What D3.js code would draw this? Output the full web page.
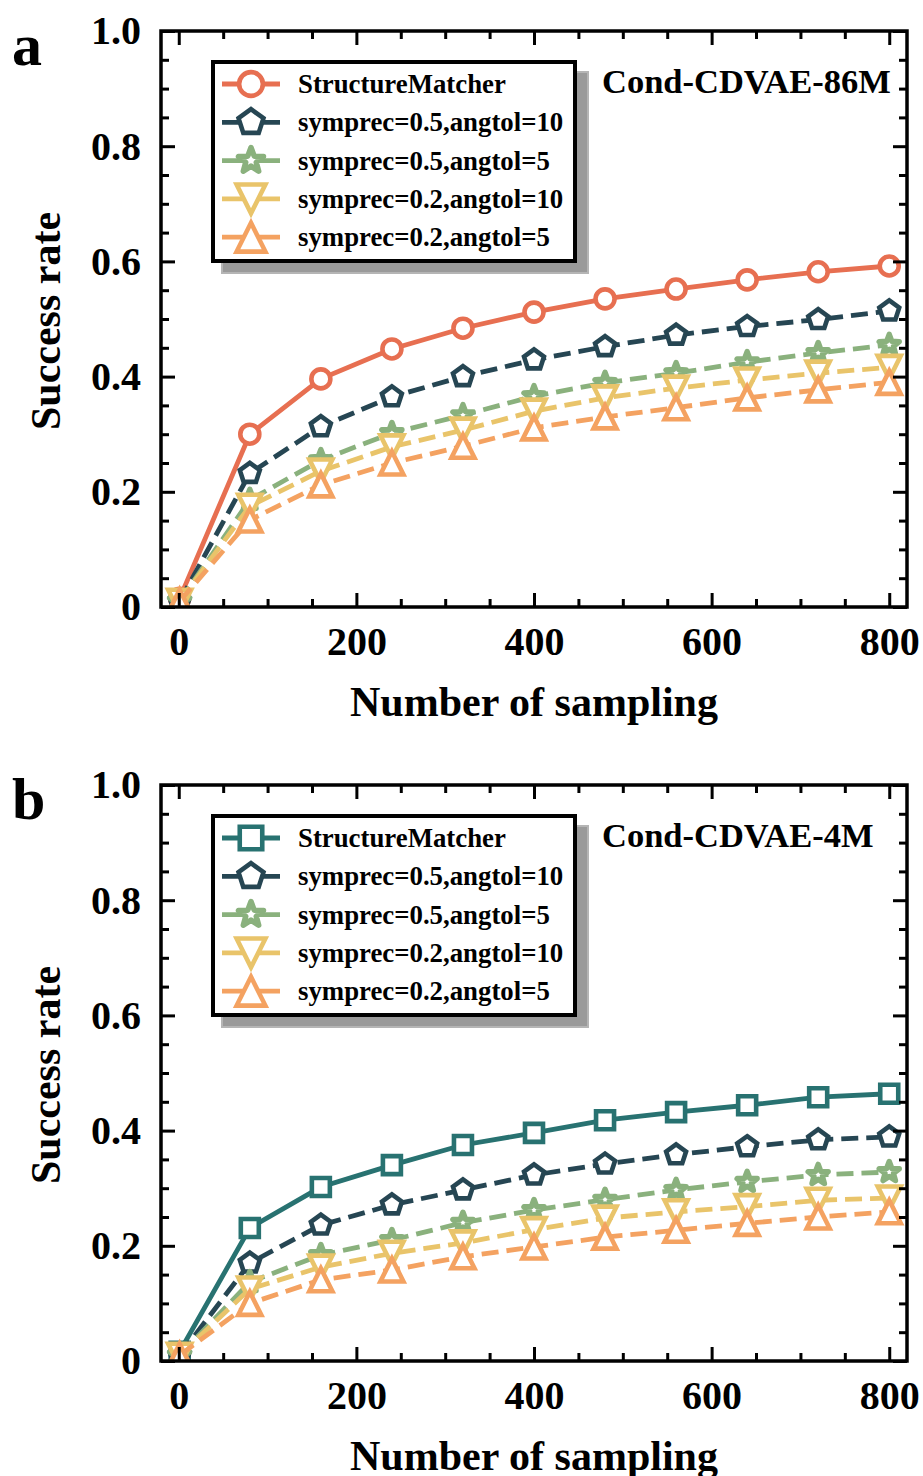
<!DOCTYPE html>
<html>
<head>
<meta charset="utf-8">
<script src="https://cdn.jsdelivr.net/npm/d3@7"></script>
<style>
  body { margin: 0; background: #fff; }
  svg text { font-family: "Liberation Serif", "Times New Roman", serif; font-weight: bold; fill: #000; }
  .tick text { font-size: 40px; }
  .axis-title { font-size: 42px; }
  .panel-letter { font-size: 60px; }
  .tag { font-size: 34.5px; }
  .legend-text { font-size: 26.8px; }
</style>
</head>
<body>
<svg id="fig" width="923" height="1476"></svg>
<script>
// data
var samplingN = [1, 80, 160, 240, 320, 400, 480, 560, 640, 720, 800];
var seriesNames = ["StructureMatcher", "symprec=0.5,angtol=10", "symprec=0.5,angtol=5",
                   "symprec=0.2,angtol=10", "symprec=0.2,angtol=5"];

// panel a : Cond-CDVAE-86M
var m86_structureMatcher = [0.015, 0.300, 0.396, 0.448, 0.484, 0.512, 0.535, 0.552, 0.568, 0.582, 0.592];
var m86_sp05_at10 = [0.010, 0.232, 0.313, 0.365, 0.400, 0.429, 0.452, 0.472, 0.487, 0.499, 0.514];
var m86_sp05_at5  = [0.010, 0.186, 0.255, 0.302, 0.333, 0.366, 0.389, 0.406, 0.425, 0.441, 0.455];
var m86_sp02_at10 = [0.010, 0.175, 0.236, 0.278, 0.307, 0.340, 0.363, 0.380, 0.394, 0.406, 0.416];
var m86_sp02_at5  = [0.010, 0.151, 0.212, 0.250, 0.279, 0.311, 0.330, 0.346, 0.363, 0.377, 0.390];

// panel b : Cond-CDVAE-4M
var m4_structureMatcher = [0.016, 0.231, 0.302, 0.340, 0.375, 0.396, 0.418, 0.432, 0.444, 0.458, 0.464];
var m4_sp05_at10 = [0.010, 0.170, 0.236, 0.271, 0.297, 0.323, 0.342, 0.358, 0.372, 0.384, 0.389];
var m4_sp05_at5  = [0.010, 0.137, 0.184, 0.210, 0.240, 0.262, 0.280, 0.297, 0.311, 0.323, 0.328];
var m4_sp02_at10 = [0.010, 0.125, 0.163, 0.187, 0.205, 0.228, 0.248, 0.259, 0.268, 0.279, 0.283];
var m4_sp02_at5  = [0.010, 0.100, 0.141, 0.158, 0.181, 0.198, 0.215, 0.227, 0.239, 0.250, 0.259];

var xMajor = [0, 200, 400, 600, 800];
var xMinor = [50, 100, 150, 250, 300, 350, 450, 500, 550, 650, 700, 750];
var yMajor = [0, 0.2, 0.4, 0.6, 0.8, 1.0];
var yMinor = [0.05, 0.1, 0.15, 0.25, 0.3, 0.35, 0.45, 0.5, 0.55, 0.65, 0.7, 0.75, 0.85, 0.9, 0.95];

var svg = d3.select("#fig");

// marker outlines, s = scale (legend uses bigger ones)
function markerPath(type, s) {
    var p = d3.path();
    var pts, i, a;
    if (type === "circle") {
        var r = 9.5 * s;
        p.moveTo(r, 0);
        p.arc(0, 0, r, 0, 2 * Math.PI);
        p.closePath();
        return p.toString();
    }
    if (type === "square") {
        var h = 9 * s;
        pts = [[-h, -h], [h, -h], [h, h], [-h, h]];
    } else if (type === "pentagon") {
        pts = [];
        for (i = 0; i < 5; i++) {
            a = (-90 + i * 72) * Math.PI / 180;
            pts.push([10.5 * s * Math.cos(a), 10.5 * s * Math.sin(a)]);
        }
    } else if (type === "star") {
        pts = [];
        for (i = 0; i < 10; i++) {
            a = (-90 + i * 36) * Math.PI / 180;
            var rr = (i % 2 === 0 ? 10.5 : 10.5 * 0.42) * s;
            pts.push([rr * Math.cos(a), rr * Math.sin(a)]);
        }
    } else if (type === "triDown") {
        var t = 11.5 * s;
        pts = [[-t, -t], [t, -t], [0, t]];
    } else {
        var u = 11.5 * s;
        pts = [[0, -u], [u, u], [-u, u]];
    }
    p.moveTo(pts[0][0], pts[0][1]);
    for (i = 1; i < pts.length; i++) p.lineTo(pts[i][0], pts[i][1]);
    p.closePath();
    return p.toString();
}

function drawPanel(top, letter, tag, values, colors, markers, clipId) {
    var x = d3.scaleLinear().domain([-20, 820]).range([161, 907]);
    var y = d3.scaleLinear().domain([0, 1]).range([top + 576, top]);

    var g = svg.append("g");

    g.append("clipPath").attr("id", clipId)
        .append("rect")
        .attr("x", x(-20)).attr("y", y(1))
        .attr("width", x(820) - x(-20)).attr("height", y(0) - y(1));

    var plot = g.append("g").attr("clip-path", "url(#" + clipId + ")");

    var line = d3.line()
        .x((d, i) => x(samplingN[i]))
        .y(d => y(d));

    values.forEach((vals, k) => {
        plot.append("path")
            .datum(vals)
            .attr("d", line)
            .attr("fill", "none")
            .attr("stroke", colors[k])
            .attr("stroke-width", 4.8)
            .attr("stroke-dasharray", k === 0 ? null : "17,8");

        plot.selectAll(null)
            .data(vals)
            .enter().append("path")
            .attr("transform", (d, i) => "translate(" + x(samplingN[i]) + "," + y(d) + ")")
            .attr("d", markerPath(markers[k], 1))
            .attr("fill", "#fff")
            .attr("stroke", colors[k])
            .attr("stroke-width", markers[k] === "star" ? 5.5 : 4.6)
            .attr("stroke-linejoin", markers[k] === "star" ? "round" : "miter");
    });

    // axes, ticks pointing inward on all four sides
    function clean(sel) {
        sel.select(".domain").remove();
        sel.selectAll(".tick line").attr("stroke-width", 3);
    }
    var fmtY = d => d === 0 ? "0" : d3.format(".1f")(d);

    g.append("g").attr("transform", "translate(0," + y(0) + ")")
        .call(d3.axisBottom(x).tickValues(xMajor).tickSize(-14).tickPadding(20).tickFormat(d3.format("d")))
        .call(clean);
    g.append("g").attr("transform", "translate(0," + y(0) + ")")
        .call(d3.axisBottom(x).tickValues(xMinor).tickSize(-8).tickFormat(""))
        .call(clean);
    g.append("g").attr("transform", "translate(0," + y(1) + ")")
        .call(d3.axisTop(x).tickValues(xMajor).tickSize(-14).tickFormat(""))
        .call(clean);
    g.append("g").attr("transform", "translate(0," + y(1) + ")")
        .call(d3.axisTop(x).tickValues(xMinor).tickSize(-8).tickFormat(""))
        .call(clean);

    g.append("g").attr("transform", "translate(" + x(-20) + ",0)")
        .call(d3.axisLeft(y).tickValues(yMajor).tickSize(-14).tickPadding(20).tickFormat(fmtY))
        .call(clean);
    g.append("g").attr("transform", "translate(" + x(-20) + ",0)")
        .call(d3.axisLeft(y).tickValues(yMinor).tickSize(-8).tickFormat(""))
        .call(clean);
    g.append("g").attr("transform", "translate(" + x(820) + ",0)")
        .call(d3.axisRight(y).tickValues(yMajor).tickSize(-14).tickFormat(""))
        .call(clean);
    g.append("g").attr("transform", "translate(" + x(820) + ",0)")
        .call(d3.axisRight(y).tickValues(yMinor).tickSize(-8).tickFormat(""))
        .call(clean);

    // frame
    g.append("rect")
        .attr("x", x(-20)).attr("y", y(1))
        .attr("width", x(820) - x(-20)).attr("height", y(0) - y(1))
        .attr("fill", "none").attr("stroke", "#000").attr("stroke-width", 3.5);

    // titles
    g.append("text").attr("class", "axis-title")
        .attr("x", (x(-20) + x(820)) / 2).attr("y", top + 685)
        .attr("text-anchor", "middle")
        .text("Number of sampling");
    g.append("text").attr("class", "axis-title")
        .attr("transform", "translate(60," + (top + 290) + ") rotate(-90)")
        .attr("text-anchor", "middle")
        .text("Success rate");
    g.append("text").attr("class", "panel-letter")
        .attr("x", 12).attr("y", top + 34)
        .text(letter);
    g.append("text").attr("class", "tag")
        .attr("x", 602).attr("y", top + 62)
        .text(tag);

    // legend with drop shadow
    var lg = g.append("g").attr("transform", "translate(0," + top + ")");
    lg.append("rect")
        .attr("x", 222).attr("y", 41).attr("width", 366).attr("height", 201)
        .attr("fill", "#9a9a9a").attr("stroke", "#b5b5b5").attr("stroke-width", 2);
    lg.append("rect")
        .attr("x", 213).attr("y", 31).attr("width", 362).attr("height", 199)
        .attr("fill", "#fff").attr("stroke", "#000").attr("stroke-width", 4);

    seriesNames.forEach((name, k) => {
        var cy = 53 + k * 38.3;
        lg.append("line")
            .attr("x1", 222).attr("x2", 280).attr("y1", cy).attr("y2", cy)
            .attr("stroke", colors[k]).attr("stroke-width", 4.8);
        lg.append("path")
            .attr("transform", "translate(251," + cy + ")")
            .attr("d", markerPath(markers[k], 1.25))
            .attr("fill", "#fff")
            .attr("stroke", colors[k])
            .attr("stroke-width", markers[k] === "star" ? 5.5 : 4.6)
            .attr("stroke-linejoin", markers[k] === "star" ? "round" : "miter");
        lg.append("text").attr("class", "legend-text")
            .attr("x", 298).attr("y", cy + 9)
            .text(name);
    });
}

drawPanel(31, "a", "Cond-CDVAE-86M",
    [m86_structureMatcher, m86_sp05_at10, m86_sp05_at5, m86_sp02_at10, m86_sp02_at5],
    ["#E76F51", "#264653", "#8AB17D", "#E9C46A", "#F4A261"],
    ["circle", "pentagon", "star", "triDown", "triUp"], "clipA");

drawPanel(785, "b", "Cond-CDVAE-4M",
    [m4_structureMatcher, m4_sp05_at10, m4_sp05_at5, m4_sp02_at10, m4_sp02_at5],
    ["#287271", "#264653", "#8AB17D", "#E9C46A", "#F4A261"],
    ["square", "pentagon", "star", "triDown", "triUp"], "clipB");
</script>
</body>
</html>
